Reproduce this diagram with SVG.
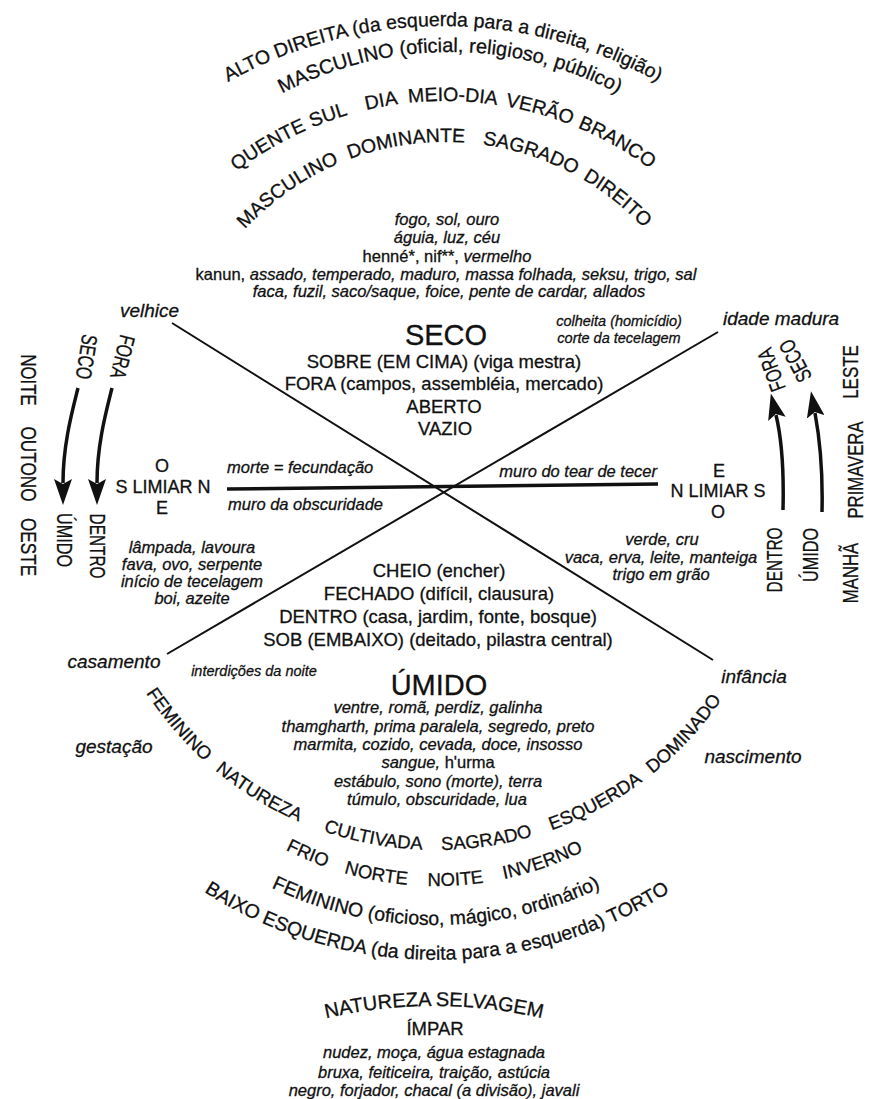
<svg xmlns="http://www.w3.org/2000/svg" xmlns:xlink="http://www.w3.org/1999/xlink" width="869" height="1099" viewBox="0 0 869 1099">
<style>
text { font-family: "Liberation Sans", Arial, Helvetica, sans-serif; fill: #111; stroke: #111; stroke-width: 0.3px; }
.arc { font-size: 19.5px; }
.bot { font-size: 18.5px; }
.lab { font-size: 19px; font-style: italic; }
.lst { font-size: 16.5px; font-style: italic; text-anchor: middle; }
.sm { font-size: 14.5px; font-style: italic; }
.cap { font-size: 18.5px; text-anchor: middle; }
.big { font-size: 29px; text-anchor: middle; }
.cmp { font-size: 18px; text-anchor: middle; }
.side { font-size: 22px; text-anchor: middle; }
.n { font-style: normal; }
.ln { stroke: #111; stroke-width: 2; fill: none; }
.thick { stroke-width: 3.5; }
.arr { stroke: #111; stroke-width: 3.5; fill: none; marker-end: url(#ah); }
</style>
<defs>
<marker id="ah" markerUnits="userSpaceOnUse" viewBox="0 0 26 18" refX="4" refY="9" markerWidth="26" markerHeight="18" orient="auto">
<path d="M0,0 L26,9 L0,18 L5,9 z" fill="#111"/>
</marker>
<path id="t1" d="M2,467 A441,441 0 0 1 884,467"/>
<path id="t2" d="M90,412 A360,360 0 0 1 810,412"/>
<path id="t3" d="M101,445 A344,344 0 0 1 789,445"/>
<path id="t4" d="M172,415 A273,273 0 0 1 718,415"/>
<path id="b1" d="M90,504 A346,346 0 0 0 782,504"/>
<path id="b2" d="M106,556 A330,330 0 0 0 766,556"/>
<path id="b3" d="M55,544 A381,381 0 0 0 817,544"/>
<path id="b4" d="M4,527 A433,433 0 0 0 870,527"/>
<path id="ns" d="M-46,1486 A480,480 0 0 1 914,1486"/>
</defs>

<g id="connectors">
<path class="ln" d="M172,323 L713,660"/>
<path class="ln" d="M718,332 L167,654"/>
<path class="ln thick" d="M227,489 L658,484"/>
<path class="arr" d="M78,388 C72,412 63,445 63,483"/>
<path class="arr" d="M112,388 C106,412 97,445 97,483"/>
<path class="arr" d="M783,510 C784,470 782,440 776,415"/>
<path class="arr" d="M822,512 C823,470 820,440 815,413"/>
</g>

<g id="top-arcs">
<text class="arc"><textPath href="#t1" startOffset="50%" text-anchor="middle">ALTO DIREITA (da esquerda para a direita, religião)</textPath></text>
<text class="arc" style="font-size:20px"><textPath href="#t2" startOffset="50%" text-anchor="middle">MASCULINO (oficial, religioso, público)</textPath></text>
<text class="arc"><textPath href="#t3" startOffset="357" text-anchor="middle">QUENTE</textPath></text>
<text class="arc"><textPath href="#t3" startOffset="423" text-anchor="middle">SUL</textPath></text>
<text class="arc"><textPath href="#t3" startOffset="477" text-anchor="middle">DIA</textPath></text>
<text class="arc"><textPath href="#t3" startOffset="548" text-anchor="middle">MEIO-DIA</textPath></text>
<text class="arc"><textPath href="#t3" startOffset="635" text-anchor="middle">VERÃO</textPath></text>
<text class="arc"><textPath href="#t3" startOffset="718" text-anchor="middle">BRANCO</textPath></text>
<text class="arc"><textPath href="#t4" startOffset="262" text-anchor="middle">MASCULINO</textPath></text>
<text class="arc"><textPath href="#t4" startOffset="390" text-anchor="middle">DOMINANTE</textPath></text>
<text class="arc"><textPath href="#t4" startOffset="515" text-anchor="middle">SAGRADO</textPath></text>
<text class="arc"><textPath href="#t4" startOffset="612" text-anchor="middle">DIREITO</textPath></text>
</g>

<g id="seco-list">
<text class="lst" x="447" y="225">fogo, sol, ouro</text>
<text class="lst" x="447" y="243">águia, luz, céu</text>
<text class="lst" x="447" y="262"><tspan class="n">henné*, nif**, </tspan>vermelho</text>
<text class="lst" x="446" y="280"><tspan class="n">kanun, </tspan>assado, temperado, maduro, massa folhada, seksu, trigo, sal</text>
<text class="lst" x="449" y="297">faca, fuzil, saco/saque, foice, pente de cardar, allados</text>
</g>

<g id="seco">
<text class="big" x="446" y="345">SECO</text>
<text class="cap" x="444" y="368">SOBRE (EM CIMA) (viga mestra)</text>
<text class="cap" x="444" y="390">FORA (campos, assembléia, mercado)</text>
<text class="cap" x="444" y="413">ABERTO</text>
<text class="cap" x="445" y="435">VAZIO</text>
</g>

<g id="corner-labels">
<text class="lab" x="120" y="317">velhice</text>
<text class="lab" x="723" y="325">idade madura</text>
<text class="lab" x="114" y="668" text-anchor="middle">casamento</text>
<text class="lab" x="114" y="753" text-anchor="middle">gestação</text>
<text class="lab" x="754" y="683" text-anchor="middle">infância</text>
<text class="lab" x="753" y="763" text-anchor="middle">nascimento</text>
</g>

<g id="colheita">
<text class="sm" x="619" y="326" text-anchor="middle">colheita (homicídio)</text>
<text class="sm" x="619" y="343" text-anchor="middle">corte da tecelagem</text>
</g>

<g id="limiar-oeste">
<text class="cmp" x="162" y="472">O</text>
<text class="cmp" x="163" y="493">S LIMIAR N</text>
<text class="cmp" x="162" y="514">E</text>
</g>
<g id="limiar-leste">
<text class="cmp" x="719" y="477">E</text>
<text class="cmp" x="718" y="497">N LIMIAR S</text>
<text class="cmp" x="718" y="518">O</text>
</g>

<g id="muros">
<text class="lst" x="227" y="473" style="text-anchor:start">morte = fecundação</text>
<text class="lst" x="228" y="510" style="text-anchor:start">muro da obscuridade</text>
<text class="lst" x="657" y="477" style="text-anchor:end">muro do tear de tecer</text>
</g>

<g id="oeste-list">
<text class="lst" x="192" y="553">lâmpada, lavoura</text>
<text class="lst" x="192" y="570">fava, ovo, serpente</text>
<text class="lst" x="192" y="587">início de tecelagem</text>
<text class="lst" x="192" y="604">boi, azeite</text>
</g>

<g id="leste-list">
<text class="lst" x="662" y="545">verde, cru</text>
<text class="lst" x="661" y="563">vaca, erva, leite, manteiga</text>
<text class="lst" x="661" y="580">trigo em grão</text>
</g>

<g id="side-left">
<text class="side" transform="translate(29,380) rotate(90) scale(0.76,1)" y="8">NOITE</text>
<text class="side" transform="translate(29,464) rotate(90) scale(0.78,1)" y="8">OUTONO</text>
<text class="side" transform="translate(29,547) rotate(90) scale(0.78,1)" y="8">OESTE</text>
<text class="side" transform="translate(87,357) rotate(99) scale(0.72,1)" y="8">SECO</text>
<text class="side" transform="translate(123,357) rotate(104) scale(0.72,1)" y="8">FORA</text>
<text class="side" transform="translate(65,540) rotate(90) scale(0.74,1)" y="8">ÚMIDO</text>
<text class="side" transform="translate(98,546) rotate(90) scale(0.7,1)" y="8">DENTRO</text>
</g>

<g id="side-right">
<text class="side" transform="translate(850,372) rotate(-90) scale(0.77,1)" y="8">LESTE</text>
<text class="side" transform="translate(855,470) rotate(-90) scale(0.76,1)" y="8">PRIMAVERA</text>
<text class="side" transform="translate(850,573) rotate(-90) scale(0.76,1)" y="8">MANHÃ</text>
<text class="side" transform="translate(771,370) rotate(-110) scale(0.72,1)" y="8">FORA</text>
<text class="side" transform="translate(795,361) rotate(-118) scale(0.72,1)" y="8">SECO</text>
<text class="side" transform="translate(774,560) rotate(-90) scale(0.7,1)" y="8">DENTRO</text>
<text class="side" transform="translate(810,555) rotate(-90) scale(0.74,1)" y="8">ÚMIDO</text>
</g>

<g id="umido">
<text class="cap" x="439" y="577">CHEIO (encher)</text>
<text class="cap" x="439" y="600">FECHADO (difícil, clausura)</text>
<text class="cap" x="438" y="623">DENTRO (casa, jardim, fonte, bosque)</text>
<text class="cap" x="438" y="646">SOB (EMBAIXO) (deitado, pilastra central)</text>
<text class="sm" x="254" y="676" text-anchor="middle">interdições da noite</text>
<text class="big" x="439" y="695">ÚMIDO</text>
</g>

<g id="umido-list">
<text class="lst" x="438" y="713">ventre, romã, perdiz, galinha</text>
<text class="lst" x="438" y="732">thamgharth, prima paralela, segredo, preto</text>
<text class="lst" x="438" y="750">marmita, cozido, cevada, doce, insosso</text>
<text class="lst" x="438" y="768">sangue, <tspan class="n">h'urma</tspan></text>
<text class="lst" x="438" y="787">estábulo, sono (morte), terra</text>
<text class="lst" x="437" y="805">túmulo, obscuridade, lua</text>
</g>

<g id="bottom-arcs">
<text class="bot"><textPath href="#b1" startOffset="245" text-anchor="middle">FEMININO</textPath></text>
<text class="bot"><textPath href="#b1" startOffset="353" text-anchor="middle">NATUREZA</textPath></text>
<text class="bot"><textPath href="#b1" startOffset="479" text-anchor="middle">CULTIVADA</textPath></text>
<text class="bot"><textPath href="#b1" startOffset="595" text-anchor="middle">SAGRADO</textPath></text>
<text class="bot"><textPath href="#b1" startOffset="713" text-anchor="middle">ESQUERDA</textPath></text>
<text class="bot"><textPath href="#b1" startOffset="828" text-anchor="middle">DOMINADO</textPath></text>
<text class="bot"><textPath href="#b2" startOffset="384" text-anchor="middle">FRIO</textPath></text>
<text class="bot"><textPath href="#b2" startOffset="457" text-anchor="middle">NORTE</textPath></text>
<text class="bot"><textPath href="#b2" startOffset="538" text-anchor="middle">NOITE</textPath></text>
<text class="bot"><textPath href="#b2" startOffset="629" text-anchor="middle">INVERNO</textPath></text>
<text class="arc"><textPath href="#b3" startOffset="50%" text-anchor="middle">FEMININO (oficioso, mágico, ordinário)</textPath></text>
<text class="arc"><textPath href="#b4" startOffset="50%" text-anchor="middle">BAIXO ESQUERDA (da direita para a esquerda) TORTO</textPath></text>
</g>

<g id="selvagem">
<text class="arc" style="font-size:20px"><textPath href="#ns" startOffset="50%" text-anchor="middle">NATUREZA SELVAGEM</textPath></text>
<text class="cap" x="435" y="1035">ÍMPAR</text>
<text class="lst" x="434" y="1058">nudez, moça, água estagnada</text>
<text class="lst" x="434" y="1078">bruxa, feiticeira, traição, astúcia</text>
<text class="lst" x="434" y="1096">negro, forjador, chacal (a divisão), javali</text>
</g>
</svg>
